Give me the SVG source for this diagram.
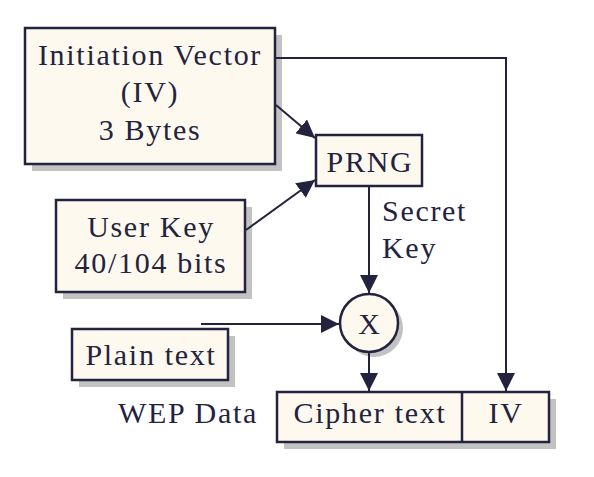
<svg xmlns="http://www.w3.org/2000/svg" width="594" height="477" viewBox="0 0 594 477">
<style>
text{font-family:"Liberation Serif","Times New Roman",serif;font-size:30px;fill:#23233f;text-anchor:middle;letter-spacing:1.7px}
.box{fill:#fdf9ee;stroke:#23233f;stroke-width:2.5}
.sh{fill:#c2c2c2}
.ln{fill:none;stroke:#23233f;stroke-width:2}
</style>
<defs>
<marker id="ah" viewBox="0 0 18 18" markerWidth="18" markerHeight="18" refX="18" refY="9" orient="auto" markerUnits="userSpaceOnUse">
<path d="M0,0 L18,9 L0,18 z" fill="#23233f"/>
</marker>
</defs>
<g id="iv">
<rect class="sh" x="32" y="35" width="250" height="136"/>
<rect class="box" x="25" y="28" width="250" height="136"/>
<text x="150" y="65">Initiation Vector</text>
<text x="150" y="102">(IV)</text>
<text x="150" y="140">3 Bytes</text>
</g>
<g id="prng">
<rect class="box" x="316" y="135" width="106" height="51"/>
<text x="370" y="172">PRNG</text>
</g>
<g id="secret-key">
<text x="382" y="221" style="text-anchor:start">Secret</text>
<text x="382" y="258" style="text-anchor:start">Key</text>
</g>
<g id="userkey">
<rect class="sh" x="63" y="207" width="189" height="92"/>
<rect class="box" x="56" y="200" width="189" height="92"/>
<text x="151" y="237">User Key</text>
<text x="151" y="273">40/104 bits</text>
</g>
<g id="xor">
<circle class="sh" cx="374" cy="328" r="29"/>
<circle class="box" cx="369" cy="323" r="29"/>
<text x="370" y="334">X</text>
</g>
<g id="plaintext">
<rect class="sh" x="79" y="336" width="156" height="51"/>
<rect class="box" x="72" y="329" width="156" height="51"/>
<text x="151" y="365">Plain text</text>
</g>
<g id="wepdata">
<text x="188" y="423">WEP Data</text>
<rect class="sh" x="284" y="399" width="272" height="50"/>
<rect class="box" x="277" y="392" width="272" height="50"/>
<line class="ln" x1="462" y1="392" x2="462" y2="442" style="stroke-width:2.5"/>
<text x="370" y="423">Cipher text</text>
<text x="506" y="423">IV</text>
</g>
<g id="connectors">
<path class="ln" d="M276,58 H506 V391" marker-end="url(#ah)"/>
<path class="ln" d="M276,105 L315,138" marker-end="url(#ah)"/>
<path class="ln" d="M246,230 L315,180" marker-end="url(#ah)"/>
<path class="ln" d="M369,187 V293" marker-end="url(#ah)"/>
<path class="ln" d="M201,324 H339" marker-end="url(#ah)"/>
<path class="ln" d="M369,353 V391" marker-end="url(#ah)"/>
</g>
</svg>
